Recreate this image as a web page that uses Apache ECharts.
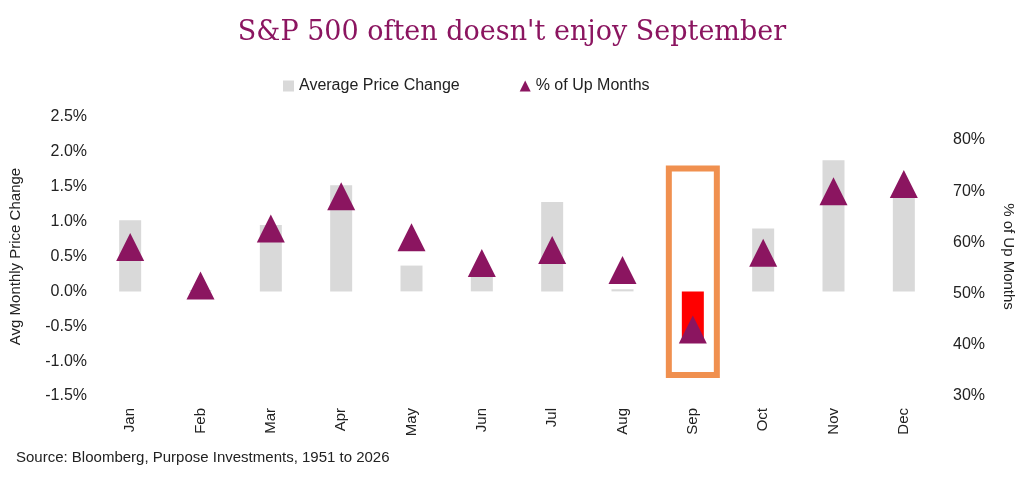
<!DOCTYPE html>
<html><head><meta charset="utf-8">
<script src="https://cdn.jsdelivr.net/npm/echarts@6/dist/echarts.min.js"></script>
<style>html,body{margin:0;background:#fff}#c{width:1024px;height:477px}</style>
</head><body><div id="c"></div>
<script>
var months = ['Jan','Feb','Mar','Apr','May','Jun','Jul','Aug','Sep','Oct','Nov','Dec'];
var avgChange = [1.02, 0.02, 0.95, 1.52, 0.37, 0.23, 1.28, 0.03, -0.72, 0.9, 1.88, 1.4];
var pctUp = [59.1, 51.6, 62.7, 69, 61, 56, 58.5, 54.6, 43, 58, 70, 71.4];
var highlightBox = [['Sep', 1.76, -1.2]];
var purple = '#8b1560';

var chart = echarts.init(document.getElementById('c'));
chart.setOption({
	title: {text: "S&P 500 often doesn't enjoy September", left: 'center', top: 14,
		textStyle: {fontFamily: 'DejaVu Serif', fontWeight: 'normal', fontSize: 27, color: purple}},
	legend: {top: 73, left: 278, itemGap: 60, textStyle: {fontFamily: 'Liberation Sans', fontSize: 16, color: '#222'},
		data: [{name: 'Average Price Change', icon: 'rect', itemStyle: {color: '#d9d9d9'}},
			{name: '% of Up Months', icon: 'triangle'}], itemWidth: 11, itemHeight: 11},
	grid: {left: 95, right: 84, top: 117, bottom: 81},
	xAxis: {type: 'category', data: months, axisTick: {show: false}, axisLine: {show: false},
		axisLabel: {rotate: 90, fontFamily: 'Liberation Sans', fontSize: 15, color: '#222', margin: 12}},
	yAxis: [{type: 'value', min: -1.5, max: 2.5, interval: 0.5, splitLine: {show: false},
		name: 'Avg Monthly Price Change', nameLocation: 'middle', nameGap: 72,
		nameTextStyle: {fontFamily: 'Liberation Sans', fontSize: 15, color: '#222'},
		axisLabel: {formatter: function(v){return v.toFixed(1)+'%';}, fontFamily: 'Liberation Sans', fontSize: 16, color: '#222'}},
		{type: 'value', min: 30, max: 84.5, interval: 10, splitLine: {show: false},
		name: '% of Up Months', nameLocation: 'middle', nameGap: 62, nameRotate: 270,
		nameTextStyle: {fontFamily: 'Liberation Sans', fontSize: 15, color: '#222'},
		axisLabel: {formatter: function(v){return v > 80 ? '' : v + '%';}, margin: 14, fontFamily: 'Liberation Sans', fontSize: 16, color: '#222'}}],
	series: [
		{name: 'Average Price Change', type: 'bar', barWidth: 22,
			data: avgChange.map(function(v, i){ return {value: v, itemStyle: {color: months[i] === 'Sep' ? '#ff0000' : '#d9d9d9'}}; })},
		{name: '% of Up Months', type: 'scatter', yAxisIndex: 1, symbol: 'triangle', symbolSize: 28,
			itemStyle: {color: purple, opacity: 1}, data: pctUp, z: 5},
		{type: 'custom', z: 6, silent: true, data: highlightBox,
			renderItem: function(params, api) {
				var top = api.coord([api.value(0), api.value(1)]);
				var bot = api.coord([api.value(0), api.value(2)]);
				var w = 48;
				return {type: 'rect', shape: {x: top[0]-w/2, y: top[1], width: w, height: bot[1]-top[1]},
					style: {fill: 'none', stroke: '#f0904f', lineWidth: 6}};
			}}
	],
	graphic: [{type: 'text', left: 16, top: 450, style: {text: 'Source: Bloomberg, Purpose Investments, 1951 to 2026',
		font: '15px "Liberation Sans"', fill: '#222'}}]
});
</script></body></html>
